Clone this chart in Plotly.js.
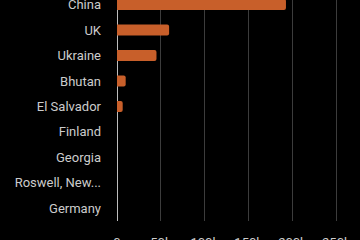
<!DOCTYPE html>
<html>
<head>
<meta charset="utf-8">
<script src="https://cdn.plot.ly/plotly-3.0.1.min.js"></script>
<style>
html,body{margin:0;padding:0;background:#000;overflow:hidden;}
#chart{width:360px;height:260px;}
</style>
</head>
<body>
<div id="chart"></div>
<script>
const categories = ["China", "UK", "Ukraine", "Bhutan", "El Salvador", "Finland", "Georgia", "Roswell, New...", "Germany"];
const values = [192600, 59400, 45000, 9900, 6500, 0, 0, 0, 0];
const xTickVals = [0, 50000, 100000, 150000, 200000, 250000];
const xTickText = ["0", "50k", "100k", "150k", "200k", "250k"];

const trace = {
  type: "bar",
  orientation: "h",
  x: values,
  y: categories,
  marker: {color: "#c85f2a", cornerradius: 2},
  hoverinfo: "none"
};

const layout = {
  width: 360,
  height: 260,
  paper_bgcolor: "#000",
  plot_bgcolor: "#000",
  margin: {l: 117, r: 0, t: 0, b: 39},
  bargap: 0.57,
  showlegend: false,
  font: {family: "Roboto, sans-serif", size: 13, color: "#cccccc"},
  xaxis: {
    range: [0, 277000],
    tickvals: xTickVals,
    ticktext: xTickText,
    showgrid: true,
    gridcolor: "#3c3c3c",
    gridwidth: 1,
    zeroline: true,
    zerolinecolor: "#bdbdbd",
    zerolinewidth: 1,
    showline: false,
    ticklabelstandoff: 12,
    fixedrange: true
  },
  yaxis: {
    type: "category",
    range: [8.5, -0.18],
    showgrid: false,
    zeroline: false,
    showline: false,
    ticklabelstandoff: 15,
    fixedrange: true
  }
};

Plotly.newPlot("chart", [trace], layout, {staticPlot: true, displayModeBar: false});
</script>
</body>
</html>
